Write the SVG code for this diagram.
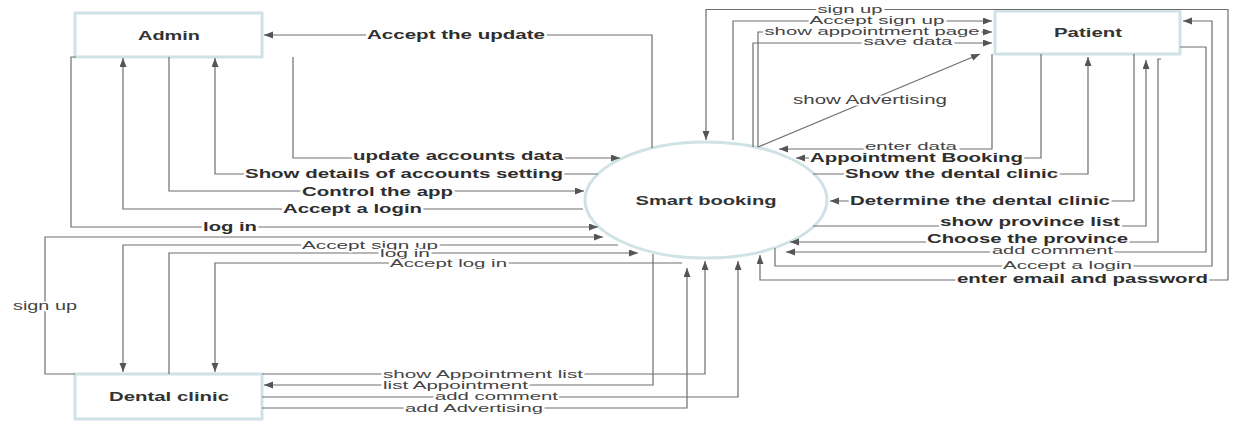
<svg xmlns="http://www.w3.org/2000/svg" width="1233" height="421" viewBox="0 0 1233 421">
<style>
.nd{fill:#fff;stroke:#cfe2e6;stroke-width:3}
.nl{font-family:"Liberation Sans",Arial,sans-serif;font-size:13px;font-weight:bold;fill:#333;text-anchor:middle}
.ln{fill:none;stroke:#6e6e6e;stroke-width:1.2}
.a{marker-end:url(#ah)}
.t{font-family:"Liberation Sans",Arial,sans-serif;font-size:12px;fill:#444;text-anchor:middle;paint-order:stroke;stroke:#fff;stroke-width:3px;stroke-linejoin:round}
.s{font-size:11px}
.b{font-weight:bold;fill:#2e2e2e}
.bg{fill:#fff}
</style>
<defs>
<marker id="ah" markerUnits="userSpaceOnUse" markerWidth="10" markerHeight="8" refX="9" refY="3.5" orient="auto">
<path d="M0,0 L9,3.5 L0,7 z" fill="#555"/>
</marker>
</defs>
<rect width="1233" height="421" fill="#fff"/>
<g id="admin"><rect class="nd" x="75" y="13" width="187" height="44"/><text class="nl" x="169" y="39.5" textLength="62" lengthAdjust="spacingAndGlyphs">Admin</text></g>
<g id="patient"><rect class="nd" x="995" y="11" width="185" height="43"/><text class="nl" x="1088" y="36.5" textLength="68" lengthAdjust="spacingAndGlyphs">Patient</text></g>
<g id="dental-clinic"><rect class="nd" x="75" y="374" width="187" height="45"/><text class="nl" x="169" y="400.5" textLength="120" lengthAdjust="spacingAndGlyphs">Dental clinic</text></g>
<g id="smart-booking"><ellipse class="nd" cx="706" cy="200" rx="121" ry="58"/><text class="nl" x="706" y="205" textLength="141" lengthAdjust="spacingAndGlyphs">Smart booking</text></g>
<g id="connectors">
<path class="ln a" d="M652,148 V35 H264"/>
<path class="ln a" d="M293,57 V158 H620"/>
<path class="ln a" d="M598,174 H215 V58"/>
<path class="ln a" d="M169,57 V191 H584"/>
<path class="ln a" d="M583,209 H123 V58"/>
<path class="ln a" d="M76,57 H71 V227 H598"/>
<path class="ln a" d="M75,374 H45 V237 H603"/>
<path class="ln a" d="M618,245 H123 V372"/>
<path class="ln a" d="M169,374 V253 H638"/>
<path class="ln a" d="M682,263 H215 V372"/>
<path class="ln a" d="M262,374 H705 V261"/>
<path class="ln a" d="M653,254 V385 H264"/>
<path class="ln a" d="M262,397 H738 V261"/>
<path class="ln a" d="M262,408 H687 V268"/>
<path class="ln a" d="M1180,9.5 H706 V140"/>
<path class="ln a" d="M733,140 V21 H992"/>
<path class="ln a" d="M758,147 V32 H992"/>
<path class="ln a" d="M753,147 V43 H992"/>
<path class="ln a" d="M758,147 L980,54"/>
<path class="ln a" d="M992,54 V149 H779"/>
<path class="ln a" d="M1041,54 V158 H796"/>
<path class="ln a" d="M813,174 H1088 V57"/>
<path class="ln a" d="M1134,54 V201 H830"/>
<path class="ln a" d="M813,226 H1146 V60"/>
<path class="ln a" d="M1161,59 H1158 V242 H790"/>
<path class="ln a" d="M1180,47 H1206 V252 H786"/>
<path class="ln a" d="M775,248 V266 H1212 V21 H1183"/>
<path class="ln a" d="M1180,9.5 H1228 V280 H760 V255"/>

<rect class="bg" x="366" y="32" width="180" height="8"/><text class="t b" x="456" y="39" textLength="178" lengthAdjust="spacingAndGlyphs">Accept the update</text>
<rect class="bg" x="352" y="153" width="212" height="8"/><text class="t b" x="458" y="160" textLength="210" lengthAdjust="spacingAndGlyphs">update accounts data</text>
<rect class="bg" x="244" y="171" width="320" height="8"/><text class="t b" x="404" y="178" textLength="318" lengthAdjust="spacingAndGlyphs">Show details of accounts setting</text>
<rect class="bg" x="301" y="188.5" width="153" height="8"/><text class="t b" x="377.5" y="195.5" textLength="151" lengthAdjust="spacingAndGlyphs">Control the app</text>
<rect class="bg" x="282" y="206" width="141" height="8"/><text class="t b" x="352.5" y="213" textLength="139" lengthAdjust="spacingAndGlyphs">Accept a login</text>
<rect class="bg" x="202" y="223.5" width="56" height="8"/><text class="t b" x="230" y="230.5" textLength="54" lengthAdjust="spacingAndGlyphs">log in</text>

<rect class="bg" x="12" y="303" width="66" height="8"/><text class="t" x="45" y="310" textLength="64" lengthAdjust="spacingAndGlyphs">sign up</text>
<rect class="bg" x="301" y="242.5" width="138" height="7"/><text class="t s" x="370" y="249" textLength="136" lengthAdjust="spacingAndGlyphs">Accept sign up</text>
<rect class="bg" x="379" y="250.5" width="52" height="7"/><text class="t s" x="405" y="257" textLength="50" lengthAdjust="spacingAndGlyphs">log in</text>
<rect class="bg" x="389" y="260.5" width="119" height="7"/><text class="t s" x="448.5" y="267" textLength="117" lengthAdjust="spacingAndGlyphs">Accept log in</text>
<rect class="bg" x="382" y="371.5" width="202" height="7"/><text class="t s" x="483" y="378" textLength="200" lengthAdjust="spacingAndGlyphs">show Appointment list</text>
<rect class="bg" x="382" y="382.5" width="147" height="7"/><text class="t s" x="455.5" y="389" textLength="145" lengthAdjust="spacingAndGlyphs">list Appointment</text>
<rect class="bg" x="434" y="393.5" width="125" height="7"/><text class="t s" x="496.5" y="400" textLength="123" lengthAdjust="spacingAndGlyphs">add comment</text>
<rect class="bg" x="404" y="405.5" width="140" height="7"/><text class="t s" x="474" y="412" textLength="138" lengthAdjust="spacingAndGlyphs">add Advertising</text>

<rect class="bg" x="817" y="6.5" width="67" height="7"/><text class="t s" x="850" y="13" textLength="65" lengthAdjust="spacingAndGlyphs">sign up</text>
<rect class="bg" x="809" y="17.5" width="137" height="7"/><text class="t s" x="877" y="24" textLength="135" lengthAdjust="spacingAndGlyphs">Accept sign up</text>
<rect class="bg" x="764" y="28.5" width="217" height="7"/><text class="t s" x="872" y="35" textLength="215" lengthAdjust="spacingAndGlyphs">show appointment page</text>
<rect class="bg" x="863" y="38.5" width="91" height="7"/><text class="t s" x="908" y="45" textLength="89" lengthAdjust="spacingAndGlyphs">save data</text>
<rect class="bg" x="792" y="97" width="156" height="8"/><text class="t" x="870" y="104" textLength="154" lengthAdjust="spacingAndGlyphs">show Advertising</text>
<rect class="bg" x="864" y="143.5" width="94" height="7"/><text class="t s" x="911" y="150" textLength="92" lengthAdjust="spacingAndGlyphs">enter data</text>
<rect class="bg" x="809" y="155" width="215" height="8"/><text class="t b" x="916.5" y="162" textLength="213" lengthAdjust="spacingAndGlyphs">Appointment Booking</text>
<rect class="bg" x="844" y="171" width="215" height="8"/><text class="t b" x="951.5" y="178" textLength="213" lengthAdjust="spacingAndGlyphs">Show the dental clinic</text>
<rect class="bg" x="849" y="198" width="262" height="8"/><text class="t b" x="980" y="205" textLength="260" lengthAdjust="spacingAndGlyphs">Determine the dental clinic</text>
<rect class="bg" x="939" y="219" width="182" height="8"/><text class="t b" x="1030" y="226" textLength="180" lengthAdjust="spacingAndGlyphs">show province list</text>
<rect class="bg" x="926" y="236" width="203" height="8"/><text class="t b" x="1027.5" y="243" textLength="201" lengthAdjust="spacingAndGlyphs">Choose the province</text>
<rect class="bg" x="991" y="247.5" width="123" height="7"/><text class="t s" x="1052.5" y="254" textLength="121" lengthAdjust="spacingAndGlyphs">add comment</text>
<rect class="bg" x="1002" y="262.5" width="131" height="7"/><text class="t s" x="1067.5" y="269" textLength="129" lengthAdjust="spacingAndGlyphs">Accept a login</text>
<rect class="bg" x="956" y="276" width="253" height="8"/><text class="t b" x="1082.5" y="283" textLength="251" lengthAdjust="spacingAndGlyphs">enter email and password</text>
</g>
</svg>
